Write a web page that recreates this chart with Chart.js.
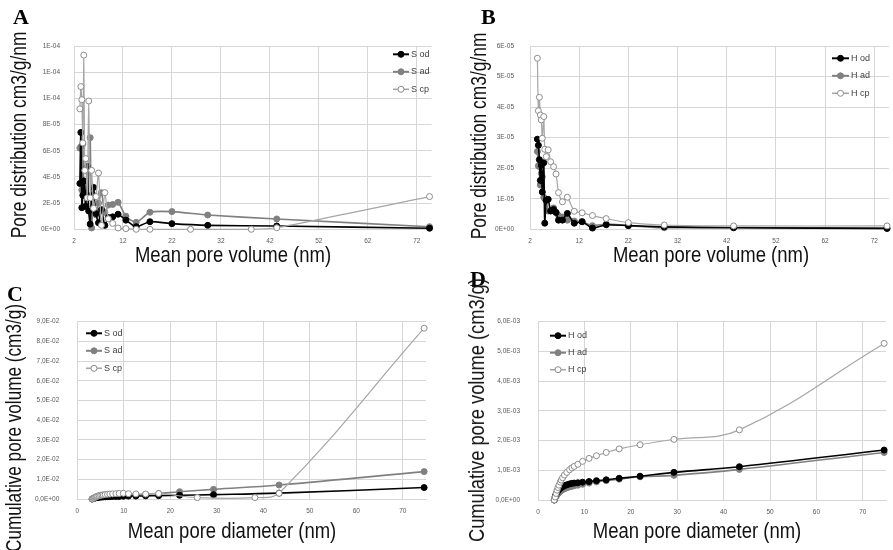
<!DOCTYPE html>
<html>
<head>
<meta charset="utf-8">
<script src="https://cdn.jsdelivr.net/npm/chart.js@4.4.1/dist/chart.umd.min.js"></script>
<style>
  body { margin: 0; background: #fff; }
  #wrap { position: relative; width: 893px; height: 550px; overflow: hidden; background: #fff; }
  canvas { position: absolute; }
  .letter { position: absolute; font: bold 22px 'Liberation Serif', serif; line-height: 1; color: #000; }
  .ttl { position: absolute; font: 22px 'Liberation Sans', sans-serif; line-height: 1;
         color: #111; white-space: nowrap; transform: translate(-50%, -50%) scaleX(0.84); }
  .ttl.vert { transform: translate(-50%, -50%) rotate(-90deg) scaleX(0.83); }
  .ttl.vert.pd { transform: translate(-50%, -50%) rotate(-90deg) scaleX(0.79); }
  .ttl.vert.cs { transform: translate(-50%, -50%) rotate(-90deg) scaleX(0.78); }
</style>
</head>
<body>
<div id="wrap">
  <canvas id="chartA" width="445" height="275" style="left:0;top:0"></canvas>
  <canvas id="chartB" width="448" height="275" style="left:445px;top:0"></canvas>
  <canvas id="chartC" width="445" height="275" style="left:0;top:275px"></canvas>
  <canvas id="chartD" width="448" height="275" style="left:445px;top:275px"></canvas>

  <div class="letter" style="left:13px;top:6px">A</div>
  <div class="letter" style="left:481px;top:6px">B</div>
  <div class="letter" style="left:7px;top:283px">C</div>
  <div class="letter" style="left:470px;top:268px">D</div>

  <div class="ttl" style="left:233px;top:254.5px">Mean pore volume (nm)</div>
  <div class="ttl vert pd" style="left:18.5px;top:135px">Pore distribution cm3/g/nm</div>
  <div class="ttl" style="left:711px;top:254.5px">Mean pore volume (nm)</div>
  <div class="ttl vert pd" style="left:479px;top:136px">Pore distribution cm3/g/nm</div>
  <div class="ttl" style="left:232px;top:531px">Mean pore diameter (nm)</div>
  <div class="ttl vert cs" style="left:13.5px;top:428px">Cumulative pore volume (cm3/g)</div>
  <div class="ttl" style="left:697px;top:531px">Mean pore diameter (nm)</div>
  <div class="ttl vert" style="left:477px;top:410px">Cumulative pore volume (cm3/g)</div>
</div>

<script>
// Diametres moyens (nm) des classes BJH
const sDiamX   = [3.2, 3.4, 3.6, 3.8, 4.0, 4.2, 4.4, 4.7, 5.0, 5.3, 5.6, 6.0, 6.5, 7.0, 7.6, 8.3, 9.0, 9.9, 11.0, 12.6, 14.7, 17.5, 22.0, 29.3, 43.4, 74.6];
const sCpDiamX = [3.2, 3.4, 3.6, 3.8, 4.0, 4.2, 4.4, 4.7, 5.0, 5.3, 5.6, 6.0, 6.5, 7.0, 7.6, 8.3, 9.0, 9.9, 11.0, 12.6, 14.7, 17.5, 25.8, 38.2, 43.4, 74.6];
const hDiamX   = [3.5, 3.7, 3.9, 4.1, 4.3, 4.5, 4.8, 5.0, 5.3, 5.7, 6.2, 6.8, 7.3, 7.8, 8.6, 9.6, 11.0, 12.6, 14.7, 17.5, 22.0, 29.3, 43.4, 74.6];

// A : distribution, echantillons S
const aSod = [3.5e-5, 7.4e-5, 1.65e-5, 2.6e-5, 3.7e-5, 2.75e-5, 1.75e-5, 4.8e-5, 1.4e-5, 0.4e-5, 2.6e-5, 3.2e-5, 1.2e-5, 0.5e-5, 1.5e-5, 0.3e-5, 0.9e-5, 0.95e-5, 1.15e-5, 0.7e-5, 0.2e-5, 0.58e-5, 0.43e-5, 0.3e-5, 0.25e-5, 0.08e-5];
const aSad = [6.2e-5, 6.3e-5, 3.0e-5, 6.5e-5, 2.6e-5, 3.3e-5, 1.8e-5, 2.4e-5, 4.3e-5, 7.0e-5, 0.1e-5, 2.6e-5, 1.1e-5, 2.0e-5, 2.8e-5, 1.3e-5, 1.85e-5, 1.9e-5, 2.06e-5, 1.0e-5, 0.53e-5, 1.3e-5, 1.35e-5, 1.09e-5, 0.79e-5, 0.2e-5];
const aScp = [9.2e-5, 10.9e-5, 9.9e-5, 6.6e-5, 13.3e-5, 4.5e-5, 5.4e-5, 2.4e-5, 9.8e-5, 2.4e-5, 4.5e-5, 1.6e-5, 2.5e-5, 4.3e-5, 0.3e-5, 2.8e-5, 0.8e-5, 0.45e-5, 0.1e-5, 0.05e-5, 0, 0, 0, 0, 0.12e-5, 2.5e-5];

// B : distribution, echantillons H
const bHod = [2.95e-5, 2.75e-5, 2.28e-5, 1.6e-5, 2.1e-5, 1.22e-5, 2.18e-5, 0.2e-5, 0.95e-5, 0.98e-5, 0.6e-5, 0.65e-5, 0.55e-5, 0.3e-5, 0.3e-5, 0.52e-5, 0.2e-5, 0.25e-5, 0.04e-5, 0.15e-5, 0.12e-5, 0.08e-5, 0.05e-5, 0.03e-5];
const bHad = [2.55e-5, 2.08e-5, 2.05e-5, 1.45e-5, 1.83e-5, 1.72e-5, 1.05e-5, 1.0e-5, 0.95e-5, 0.6e-5, 0.6e-5, 0.7e-5, 0.55e-5, 0.45e-5, 0.4e-5, 0.3e-5, 0.27e-5, 0.25e-5, 0.12e-5, 0.17e-5, 0.12e-5, 0.05e-5, 0.06e-5, 0.03e-5];
const bHcp = [5.6e-5, 3.88e-5, 4.32e-5, 3.74e-5, 3.58e-5, 2.98e-5, 3.69e-5, 2.62e-5, 2.38e-5, 2.6e-5, 2.21e-5, 2.05e-5, 1.81e-5, 1.2e-5, 0.9e-5, 1.05e-5, 0.59e-5, 0.54e-5, 0.45e-5, 0.35e-5, 0.22e-5, 0.14e-5, 0.11e-5, 0.11e-5];

// C : volume cumule, echantillons S
const cSod = [0, 0.0002, 0.0004, 0.0005, 0.0006, 0.0007, 0.0008, 0.0009, 0.0010, 0.0010, 0.0011, 0.0011, 0.0012, 0.0012, 0.0013, 0.0013, 0.0013, 0.0014, 0.0015, 0.0015, 0.0016, 0.0017, 0.0019, 0.0022, 0.0030, 0.0058];
const cSad = [0, 0.0003, 0.0005, 0.0007, 0.0008, 0.0009, 0.0010, 0.0011, 0.0012, 0.0013, 0.0014, 0.0015, 0.0016, 0.0016, 0.0017, 0.0018, 0.0018, 0.0019, 0.0020, 0.0021, 0.0024, 0.0028, 0.0037, 0.0049, 0.0071, 0.0139];
const cScp = [0, 0.0003, 0.0006, 0.0008, 0.0011, 0.0013, 0.0015, 0.0017, 0.0019, 0.0020, 0.0021, 0.0023, 0.0024, 0.0025, 0.0026, 0.0027, 0.0028, 0.0029, 0.0027, 0.0026, 0.0025, 0.0028, 0.0007, 0.0007, 0.0029, 0.0867];

// D : volume cumule, echantillons H
const dHod = [0, 0.12e-3, 0.20e-3, 0.26e-3, 0.31e-3, 0.35e-3, 0.39e-3, 0.42e-3, 0.45e-3, 0.48e-3, 0.51e-3, 0.54e-3, 0.56e-3, 0.57e-3, 0.58e-3, 0.60e-3, 0.62e-3, 0.65e-3, 0.68e-3, 0.73e-3, 0.80e-3, 0.93e-3, 1.12e-3, 1.68e-3];
const dHad = [0, 0.06e-3, 0.12e-3, 0.17e-3, 0.21e-3, 0.25e-3, 0.29e-3, 0.32e-3, 0.35e-3, 0.38e-3, 0.41e-3, 0.44e-3, 0.46e-3, 0.48e-3, 0.50e-3, 0.53e-3, 0.57e-3, 0.61e-3, 0.65e-3, 0.70e-3, 0.78e-3, 0.83e-3, 1.03e-3, 1.60e-3];
const dHcp = [0, 0.10e-3, 0.22e-3, 0.33e-3, 0.42e-3, 0.50e-3, 0.60e-3, 0.67e-3, 0.75e-3, 0.84e-3, 0.93e-3, 1.02e-3, 1.08e-3, 1.13e-3, 1.20e-3, 1.30e-3, 1.40e-3, 1.49e-3, 1.60e-3, 1.72e-3, 1.86e-3, 2.04e-3, 2.36e-3, 5.27e-3];

// Graduations
const abXTicks = [2, 12, 22, 32, 42, 52, 62, 72];
const cdXTicks = [0, 10, 20, 30, 40, 50, 60, 70];
const aYTicks  = [0, 2e-5, 4e-5, 6e-5, 8e-5, 1e-4, 1.2e-4, 1.4e-4];
const aYLabels = ['0E+00', '2E-05', '4E-05', '6E-05', '8E-05', '1E-04', '1E-04', '1E-04'];
const bYTicks  = [0, 1e-5, 2e-5, 3e-5, 4e-5, 5e-5, 6e-5];
const bYLabels = ['0E+00', '1E-05', '2E-05', '3E-05', '4E-05', '5E-05', '6E-05'];
const cYTicks  = [0, 0.01, 0.02, 0.03, 0.04, 0.05, 0.06, 0.07, 0.08, 0.09];
const cYLabels = ['0,0E+00', '1,0E-02', '2,0E-02', '3,0E-02', '4,0E-02', '5,0E-02', '6,0E-02', '7,0E-02', '8,0E-02', '9,0E-02'];
const dYTicks  = [0, 0.001, 0.002, 0.003, 0.004, 0.005, 0.006];
const dYLabels = ['0,0E+00', '1,0E-03', '2,0E-03', '3,0E-03', '4,0E-03', '5,0E-03', '6,0E-03'];

const tickFont = { family: "'Liberation Sans',sans-serif", size: 6.5 };
const gridColor = '#d6d6d6';

const styles = {
    od: { borderColor: '#000000', pointBackgroundColor: '#000000', pointBorderColor: '#000000', borderWidth: 1.6, order: 1 },
    ad: { borderColor: '#808080', pointBackgroundColor: '#808080', pointBorderColor: '#808080', borderWidth: 1.6, order: 2 },
    cp: { borderColor: '#a6a6a6', pointBackgroundColor: '#ffffff', pointBorderColor: '#8c8c8c', borderWidth: 1.2, order: 0 }
};

// Legende dessinee dans la zone du graphique
const insideLegend = {
    id: 'insideLegend',
    afterDatasetsDraw(chart, args, opts) {
        const ctx = chart.ctx;
        ctx.save();
        ctx.font = opts.font;
        ctx.textBaseline = 'middle';
        chart.data.datasets.forEach((ds, i) => {
            const y = opts.y + i * opts.dy;
            ctx.strokeStyle = ds.borderColor;
            ctx.lineWidth = ds.borderWidth + 0.4;
            ctx.beginPath();
            ctx.moveTo(opts.x, y);
            ctx.lineTo(opts.x + opts.w, y);
            ctx.stroke();
            ctx.beginPath();
            ctx.arc(opts.x + opts.w / 2, y, 3, 0, Math.PI * 2);
            ctx.fillStyle = ds.pointBackgroundColor;
            ctx.fill();
            ctx.lineWidth = 1;
            ctx.strokeStyle = ds.pointBorderColor;
            ctx.stroke();
            ctx.fillStyle = '#404040';
            ctx.fillText(ds.label, opts.x + opts.w + 2, y);
        });
        ctx.restore();
    }
};

function xAxis(min, max, ticks, height) {
    return {
        type: 'linear', min, max,
        afterBuildTicks: s => { s.ticks = ticks.map(v => ({ value: v })); },
        afterFit: s => { s.height = height; },
        ticks: { font: tickFont, color: '#595959', padding: 8, maxRotation: 0, autoSkip: false, callback: v => String(v) },
        grid: { color: gridColor, drawTicks: false },
        border: { color: gridColor }
    };
}

function yAxis(ticks, labels, pad, width) {
    return {
        type: 'linear', min: ticks[0], max: ticks[ticks.length - 1],
        afterBuildTicks: s => { s.ticks = ticks.map(v => ({ value: v })); },
        afterFit: s => { s.width = width; },
        ticks: { font: tickFont, color: '#595959', padding: pad, autoSkip: false, callback: (v, i) => labels[i] },
        grid: { color: gridColor, drawTicks: false },
        border: { display: false }
    };
}

function makeChart(id, p) {
    const canvas = document.getElementById(id);
    return new Chart(canvas, {
        type: 'line',
        data: {
            datasets: p.series.map(s => Object.assign({
                label: s.label,
                data: s.x.map((x, i) => ({ x: x, y: s.y[i] })),
                tension: p.tension,
                clip: false,
                pointRadius: 3,
                pointHoverRadius: 3,
                pointBorderWidth: 1
            }, styles[s.kind]))
        },
        options: {
            responsive: false,
            animation: false,
            events: [],
            layout: { padding: { left: 0, top: p.top, right: canvas.width - p.right, bottom: 0 } },
            scales: {
                x: xAxis(p.xMin, p.xMax, p.xTicks, canvas.height - p.bottom),
                y: yAxis(p.yTicks, p.yLabels, p.yPad, p.left)
            },
            plugins: {
                legend: { display: false },
                tooltip: { enabled: false },
                insideLegend: p.legend
            }
        },
        plugins: [insideLegend]
    });
}

const legendFont = "9px 'Liberation Sans',sans-serif";

makeChart('chartA', {
    left: 74, right: 431.5, top: 46, bottom: 229.3, xMin: 2, xMax: 75, xTicks: abXTicks,
    yTicks: aYTicks, yLabels: aYLabels, yPad: 14, tension: 0.2,
    legend: { x: 393, y: 54.3, dy: 17.5, w: 16, font: legendFont },
    series: [
        { label: 'S od', kind: 'od', x: sDiamX, y: aSod },
        { label: 'S ad', kind: 'ad', x: sDiamX, y: aSad },
        { label: 'S cp', kind: 'cp', x: sCpDiamX, y: aScp }
    ]
});

makeChart('chartB', {
    left: 85, right: 445, top: 46, bottom: 229.3, xMin: 2, xMax: 75, xTicks: abXTicks,
    yTicks: bYTicks, yLabels: bYLabels, yPad: 16, tension: 0.2,
    legend: { x: 387, y: 58.3, dy: 17.5, w: 17, font: legendFont },
    series: [
        { label: 'H od', kind: 'od', x: hDiamX, y: bHod },
        { label: 'H ad', kind: 'ad', x: hDiamX, y: bHad },
        { label: 'H cp', kind: 'cp', x: hDiamX, y: bHcp }
    ]
});

makeChart('chartC', {
    left: 77.3, right: 426, top: 46.7, bottom: 224, xMin: 0, xMax: 75, xTicks: cdXTicks,
    yTicks: cYTicks, yLabels: cYLabels, yPad: 18, tension: 0.4,
    legend: { x: 86, y: 58.3, dy: 17.5, w: 16, font: legendFont },
    series: [
        { label: 'S od', kind: 'od', x: sDiamX, y: cSod },
        { label: 'S ad', kind: 'ad', x: sDiamX, y: cSad },
        { label: 'S cp', kind: 'cp', x: sCpDiamX, y: cScp }
    ]
});

makeChart('chartD', {
    left: 93, right: 441, top: 46.7, bottom: 225, xMin: 0, xMax: 75, xTicks: cdXTicks,
    yTicks: dYTicks, yLabels: dYLabels, yPad: 18, tension: 0.4,
    legend: { x: 105, y: 60.7, dy: 17, w: 16, font: legendFont },
    series: [
        { label: 'H od', kind: 'od', x: hDiamX, y: dHod },
        { label: 'H ad', kind: 'ad', x: hDiamX, y: dHad },
        { label: 'H cp', kind: 'cp', x: hDiamX, y: dHcp }
    ]
});
</script>
</body>
</html>
